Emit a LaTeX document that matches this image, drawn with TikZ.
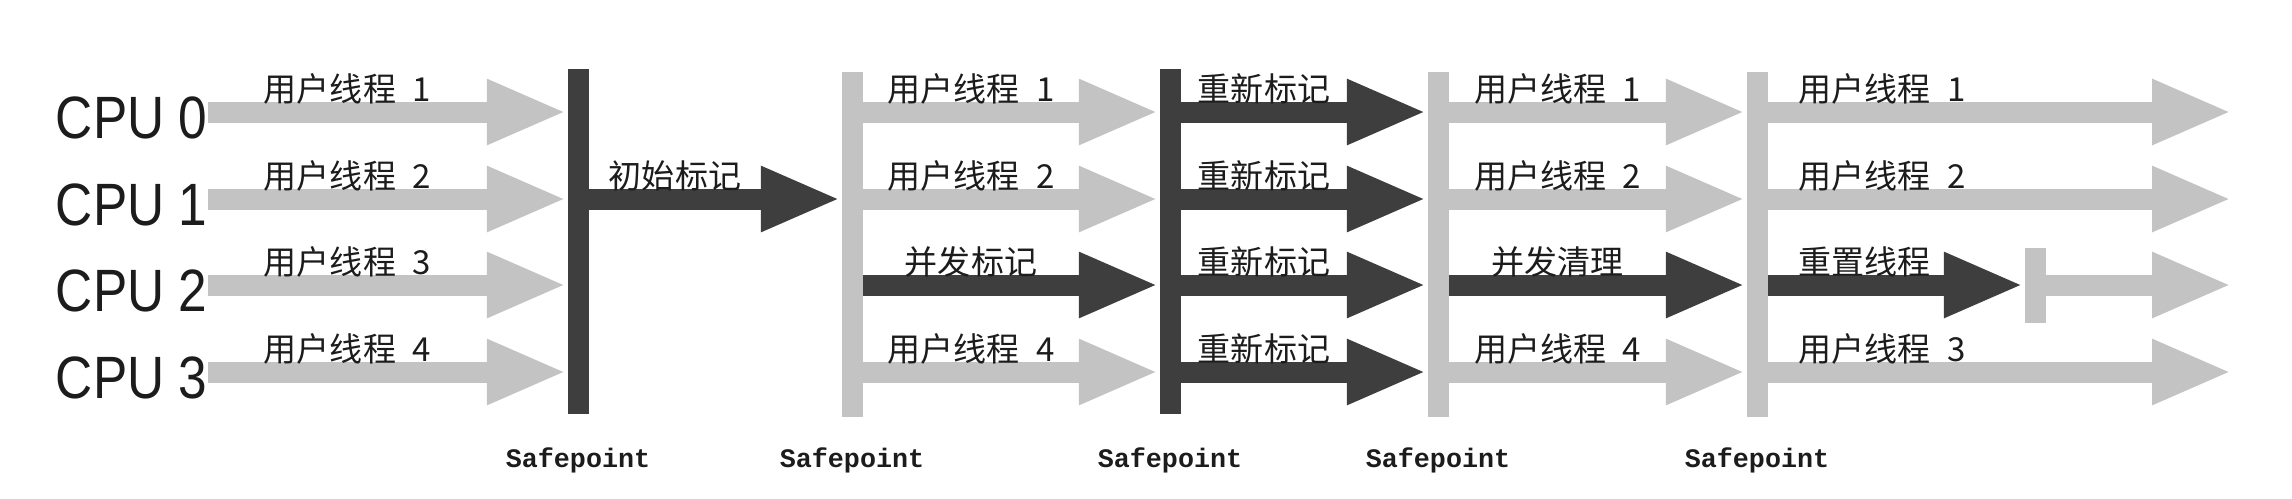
\documentclass[tikz,border=0pt]{standalone}
\usepackage{fontspec}
\setmainfont{Liberation Sans}
\newfontfamily\cpufont[FakeStretch=0.86]{Liberation Sans}
\newfontfamily\cjk{Noto Sans CJK SC}
\newfontfamily\spfont{Liberation Mono}
\usepackage{tikz}
\usetikzlibrary{arrows.meta, calc}

\definecolor{barlight}{RGB}{195,195,195}
\definecolor{bardark}{RGB}{62,62,62}
\definecolor{inkgray}{RGB}{28,28,28}

\tikzstyle{thread} = [line width=2.1mm, -{Triangle[length=8mm,width=6mm]}]

\begin{document}
\begin{tikzpicture}[x=0.1mm, y=-0.1mm,
    cpu/.style={anchor=east, inner sep=0pt, text=inkgray,
                font=\cpufont\fontsize{17pt}{20pt}\selectfont},
    safe/.style={rectangle, inner sep=0pt, minimum width=2.1mm,
                 minimum height=34.5mm},
    tag/.style={midway, above=-0.3mm, xshift=-4mm, inner sep=0pt, text=inkgray,
                font=\cjk\fontsize{9.4pt}{11pt}\selectfont},
    tagl/.style={pos=0, anchor=south west, xshift=2mm, yshift=-0.3mm,
                 inner sep=0pt, text=inkgray, font=\cjk\fontsize{9.4pt}{11pt}\selectfont},
    spname/.style={inner sep=0pt, text=inkgray,
                   font=\spfont\bfseries\fontsize{7.6pt}{9pt}\selectfont}]

  \useasboundingbox (0,0) rectangle (2292,498);

  % rows and CPU labels
  \foreach \r/\y in {0/112,1/199,2/285,3/372} {
    \coordinate (r\r) at (0,\y);
    \coordinate (e\r) at (2232,\y);
    \node[cpu] (cpu\r) at (208,\y+6) {CPU \r};
  }

  % safepoint bars
  \node[safe, fill=bardark]  (sp1) at (578,241)  {};
  \node[safe, fill=barlight] (sp2) at (852,244)  {};
  \node[safe, fill=bardark]  (sp3) at (1170,241) {};
  \node[safe, fill=barlight] (sp4) at (1438,244) {};
  \node[safe, fill=barlight] (sp5) at (1757,244) {};
  \node[safe, fill=barlight, minimum height=7.5mm] (tick) at (2035,285) {};

  \foreach \s in {1,...,5}
    \node[spname] (sl\s) at (sp\s |- 0,460) {Safepoint};

  % user threads before the first safepoint
  \foreach \r/\n in {0/1,1/2,2/3,3/4}
    \draw[thread, barlight] (cpu\r.east |- r\r) -- node[tag]{用户线程\enspace\n} (sp1.west |- r\r);

  % initial mark
  \draw[thread, bardark] (sp1.east |- r1) -- node[tag]{初始标记} (sp2.west |- r1);

  % concurrent mark
  \foreach \r/\n in {0/1,1/2,3/4}
    \draw[thread, barlight] (sp2.east |- r\r) -- node[tag]{用户线程\enspace\n} (sp3.west |- r\r);
  \draw[thread, bardark] (sp2.east |- r2) -- node[tag]{并发标记} (sp3.west |- r2);

  % remark
  \foreach \r in {0,...,3}
    \draw[thread, bardark] (sp3.east |- r\r) -- node[tag]{重新标记} (sp4.west |- r\r);

  % concurrent sweep
  \foreach \r/\n in {0/1,1/2,3/4}
    \draw[thread, barlight] (sp4.east |- r\r) -- node[tag]{用户线程\enspace\n} (sp5.west |- r\r);
  \draw[thread, bardark] (sp4.east |- r2) -- node[tag]{并发清理} (sp5.west |- r2);

  % reset
  \foreach \r/\n in {0/1,1/2,3/3}
    \draw[thread, barlight] (sp5.east |- r\r) -- node[tagl]{用户线程\enspace\n} (e\r);
  \draw[thread, bardark] (sp5.east |- r2) -- node[tagl]{重置线程} (tick.west |- r2);
  \draw[thread, barlight] (tick.east |- r2) -- (e2);
\end{tikzpicture}
\end{document}
